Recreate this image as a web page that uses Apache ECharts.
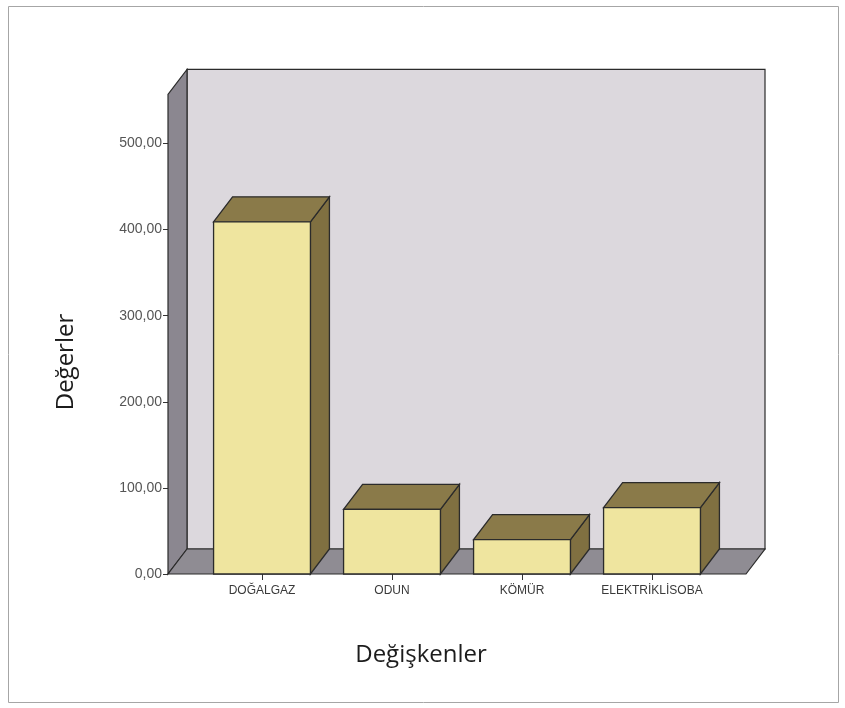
<!DOCTYPE html>
<html>
<head>
<meta charset="utf-8">
<script src="https://cdn.jsdelivr.net/npm/echarts@6/dist/echarts.min.js"></script>
<style>
  html, body { margin: 0; padding: 0; background: #ffffff; }
  #chart { width: 845px; height: 708px; }
</style>
</head>
<body>
<div id="chart"></div>
<script>
// Heating source categories and their values
const categories = ['DOĞALGAZ', 'ODUN', 'KÖMÜR', 'ELEKTRİKLİSOBA'];
const values = [409, 75, 40, 77];

// Value axis range and step
const yMin = 0;
const yMax = 500;
const yStep = 100;
// Height of the back wall, in axis units
const wallTop = 557;

// 3D look: depth offset of walls and boxes, and how far the floor runs past the bars
const DEPTH_X = 19;
const DEPTH_Y = -25;
const FLANK = 29;
const BAR_RATIO = 0.745;

const EDGE = '#2b2b2b';

function fmt(v) {
  return v.toFixed(2).replace('.', ',');
}

// Back wall, left wall and floor of the chart box
function renderWalls(params, api) {
  const cs = params.coordSys;
  const y0 = api.coord([0, 0])[1];
  const yT = api.coord([0, wallTop])[1];
  const xL = cs.x - FLANK;
  const xR = cs.x + cs.width + FLANK;
  const style = (fill) => ({ fill: fill, stroke: EDGE, lineWidth: 1.2 });
  return {
    type: 'group',
    children: [
      {
        type: 'polygon',
        shape: { points: [[xL + DEPTH_X, yT + DEPTH_Y], [xR + DEPTH_X, yT + DEPTH_Y], [xR + DEPTH_X, y0 + DEPTH_Y], [xL + DEPTH_X, y0 + DEPTH_Y]] },
        style: style('#dcd8dd')
      },
      {
        type: 'polygon',
        shape: { points: [[xL, yT], [xL + DEPTH_X, yT + DEPTH_Y], [xL + DEPTH_X, y0 + DEPTH_Y], [xL, y0]] },
        style: style('#8b8790')
      },
      {
        type: 'polygon',
        shape: { points: [[xL, y0], [xR, y0], [xR + DEPTH_X, y0 + DEPTH_Y], [xL + DEPTH_X, y0 + DEPTH_Y]] },
        style: style('#8f8c93')
      }
    ]
  };
}

// One 3D box per category: front face, top and right side
function renderBox(params, api) {
  const idx = api.value(0);
  const top = api.coord([idx, api.value(1)]);
  const base = api.coord([idx, 0]);
  const w = api.size([1, 0])[0] * BAR_RATIO;
  const xl = top[0] - w / 2;
  const xr = top[0] + w / 2;
  const yt = top[1];
  const yb = base[1];
  return {
    type: 'group',
    children: [
      {
        type: 'polygon',
        shape: { points: [[xr, yt], [xr + DEPTH_X, yt + DEPTH_Y], [xr + DEPTH_X, yb + DEPTH_Y], [xr, yb]] },
        style: { fill: '#807041', stroke: EDGE, lineWidth: 1.3 }
      },
      {
        type: 'polygon',
        shape: { points: [[xl, yt], [xr, yt], [xr + DEPTH_X, yt + DEPTH_Y], [xl + DEPTH_X, yt + DEPTH_Y]] },
        style: { fill: '#8a7a49', stroke: EDGE, lineWidth: 1.3 }
      },
      {
        type: 'rect',
        shape: { x: xl, y: yt, width: w, height: yb - yt },
        style: { fill: '#efe59f', stroke: EDGE, lineWidth: 1.3 }
      }
    ]
  };
}

const chart = echarts.init(document.getElementById('chart'), null, { renderer: 'canvas' });

chart.setOption({
  animation: false,
  backgroundColor: '#ffffff',
  grid: { left: 197, right: 128, top: 143.5, bottom: 134, containLabel: false },
  xAxis: {
    type: 'category',
    data: categories,
    axisLine: { show: false },
    axisTick: { show: true, alignWithLabel: true, length: 6, lineStyle: { color: '#333', width: 1 } },
    axisLabel: {
      interval: 0,
      hideOverlap: false,
      margin: 11,
      fontFamily: '"Liberation Sans", Arial, sans-serif',
      fontSize: 12,
      color: '#3a3a3a'
    },
    splitLine: { show: false }
  },
  yAxis: {
    type: 'value',
    min: yMin,
    max: yMax,
    interval: yStep,
    offset: FLANK,
    axisLine: { show: false },
    axisTick: { show: true, length: 5, lineStyle: { color: '#333', width: 1 } },
    axisLabel: {
      margin: 6,
      formatter: fmt,
      fontFamily: '"Liberation Sans", Arial, sans-serif',
      fontSize: 14,
      color: '#555'
    },
    splitLine: { show: false }
  },
  series: [
    {
      type: 'custom',
      name: 'walls',
      renderItem: renderWalls,
      data: [[0, 0]],
      z: 1,
      silent: true
    },
    {
      type: 'custom',
      name: 'Değerler',
      renderItem: renderBox,
      data: values.map((v, i) => [i, v]),
      encode: { x: 0, y: 1 },
      z: 2
    }
  ],
  graphic: [
    {
      type: 'rect',
      shape: { x: 8.5, y: 6.5, width: 830, height: 696 },
      style: { fill: 'none', stroke: '#a6a6a6', lineWidth: 1 },
      z: 0
    },
    {
      type: 'text',
      x: 66,
      y: 362,
      rotation: Math.PI / 2,
      style: {
        text: 'Değerler',
        font: '24px "Open Sans", sans-serif',
        fill: '#1c1c1c',
        textAlign: 'center',
        textVerticalAlign: 'middle'
      }
    },
    {
      type: 'text',
      x: 421,
      y: 655,
      style: {
        text: 'Değişkenler',
        font: '24px "Open Sans", sans-serif',
        fill: '#1c1c1c',
        textAlign: 'center',
        textVerticalAlign: 'middle'
      }
    }
  ]
});
</script>
</body>
</html>
